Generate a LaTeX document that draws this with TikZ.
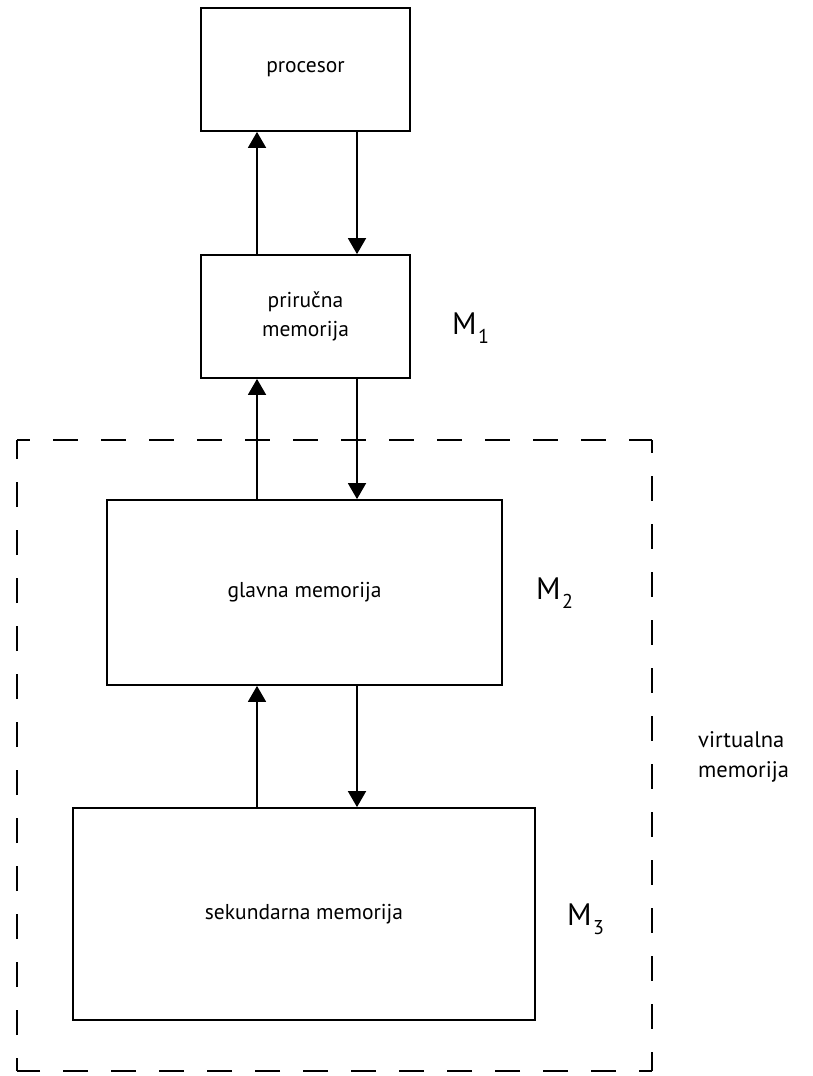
\documentclass[tikz,border=0pt]{standalone}
\usepackage{fontspec}
\setmainfont{PT Sans}
\usetikzlibrary{arrows.meta}
\begin{document}
\begin{tikzpicture}[x=1pt,y=-1pt,
  box/.style={draw, line width=1.8pt, inner sep=0pt, align=center, font=\fontsize{21.5}{29}\selectfont},
  arr/.style={line width=1.8pt, -{Triangle[width=18pt,length=16pt]}},
  lbl/.style={font=\fontsize{31}{34}\selectfont, inner sep=0pt},
  sub/.style={font=\fontsize{20}{22}\selectfont, inner sep=0pt, anchor=base west},
  dsh/.style={line width=1.8pt, dash pattern=on 25pt off 23pt, dash phase=12pt}]
\useasboundingbox (0,0) rectangle (813,1076);
\node[box, minimum width=209, minimum height=123] (proc) at (305.5,69.5) {procesor};
\node[box, minimum width=209, minimum height=123] (prir) at (305.5,316.5) {priručna\\memorija};
\node[box, minimum width=395, minimum height=185] (glav) at (304.5,592.5) {glavna memorija};
\node[box, minimum width=462, minimum height=212] (sek) at (304,914) {sekundarna memorija};
% arrows
\draw[arr] (257,0 |- prir.north) -- (257,0 |- proc.south);
\draw[arr] (357,0 |- proc.south) -- (357,0 |- prir.north);
\draw[arr] (257,0 |- glav.north) -- (257,0 |- prir.south);
\draw[arr] (357,0 |- prir.south) -- (357,0 |- glav.north);
\draw[arr] (257,0 |- sek.north) -- (257,0 |- glav.south);
\draw[arr] (357,0 |- glav.south) -- (357,0 |- sek.north);
% labels
\node[lbl, anchor=base west] (m1) at (452,334) {M};
\node[sub] (s1) at ([xshift=1pt,yshift=-9pt]m1.base east) {1};
\node[lbl, anchor=base west] (m2) at (536,599) {M};
\node[sub] (s2) at ([xshift=1pt,yshift=-9pt]m2.base east) {2};
\node[lbl, anchor=base west] (m3) at (567,925) {M};
\node[sub] (s3) at ([xshift=1pt,yshift=-9pt]m3.base east) {3};
\node[anchor=west, align=left, inner sep=0pt, font=\fontsize{22.5}{30}\selectfont] (vm) at (698,757) {virtualna\\memorija};
% dashed box
\coordinate (tl) at (17,440);
\coordinate (tr) at (652,440);
\coordinate (br) at (652,1071);
\coordinate (bl) at (17,1071);
\draw[dsh] (tl) -- (tr);
\draw[dsh] (tr) -- (br);
\draw[dsh] (br) -- (bl);
\draw[dsh] (bl) -- (tl);
\end{tikzpicture}
\end{document}
